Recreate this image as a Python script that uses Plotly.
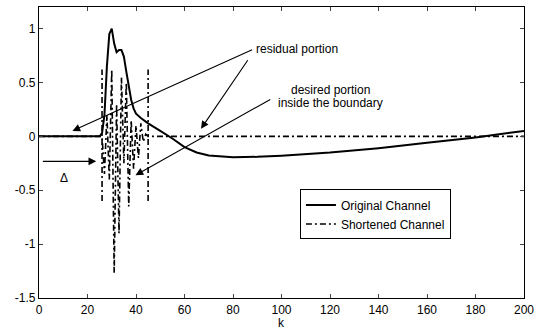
import plotly.graph_objects as go

# Original channel impulse response (sample index k, amplitude)
k_orig = [0, 25, 26, 27, 28, 29, 30, 31, 32, 33, 34, 35, 36, 37, 38, 39, 40, 42, 45,
          50, 55, 60, 65, 70, 75, 80, 90, 100, 120, 140, 160, 180, 200]
h_orig = [0, 0, 0.03, 0.2, 0.65, 0.95, 1.0, 0.86, 0.78, 0.8, 0.8, 0.74, 0.6, 0.46, 0.34,
          0.26, 0.21, 0.17, 0.12, 0.05, -0.02, -0.1, -0.15, -0.178, -0.19, -0.195, -0.19,
          -0.18, -0.15, -0.11, -0.06, -0.01, 0.05]

# Shortened channel (non-zero only inside the window)
k_short = [0, 25, 26, 27, 28, 29, 30, 31, 32, 33, 34, 35, 36, 37, 38, 39, 40, 41, 42,
           43, 44, 45, 200]
h_short = [0, 0, 0.0, -0.35, 0.2, -0.4, 0.62, -1.27, 0.3, -0.9, 0.55, -0.25, 0.5, -0.65,
           0.15, -0.3, 0.1, -0.2, 0.12, -0.05, 0.02, 0, 0]

# Window boundary
win_start, win_end = 26, 45
win_low, win_high = -0.6, 0.62

# Axis ticks
x_ticks = [0, 20, 40, 60, 80, 100, 120, 140, 160, 180, 200]
y_ticks = [-1.5, -1, -0.5, 0, 0.5, 1]
y_tick_text = ["-1.5", "-1", "-0.5", "0", "0.5", "1"]

DASHDOT = "6px,3px,2px,3px"
FONT = "Liberation Sans, Arial, sans-serif"

fig = go.Figure()
fig.add_trace(go.Scatter(
    x=k_orig, y=h_orig, mode="lines", name="Original Channel",
    line=dict(color="black", width=2),
))
fig.add_trace(go.Scatter(
    x=k_short, y=h_short, mode="lines", name="Shortened Channel",
    line=dict(color="black", width=1.6, dash=DASHDOT),
))
fig.add_trace(go.Scatter(
    x=[win_start, win_start, None, win_end, win_end],
    y=[win_low, win_high, None, win_low, win_high],
    mode="lines", showlegend=False,
    line=dict(color="black", width=1.6, dash=DASHDOT),
))

arrows = [
    # (tip x, tip y, tail x, tail y)
    (13.8, 0.05, 88.5, 0.81),
    (66.8, 0.07, 86.5, 0.72),
    (39.8, -0.36, 96.0, 0.35),
    (23.6, -0.232, 1.0, -0.232),
]
for tx, ty, sx, sy in arrows:
    fig.add_annotation(
        x=tx, y=ty, ax=sx, ay=sy, xref="x", yref="y", axref="x", ayref="y",
        showarrow=True, arrowhead=2, arrowsize=1.4, arrowwidth=1.1,
        arrowcolor="black", text="",
    )

labels = [
    (88.8, 0.81, "residual portion", "left"),
    (120, 0.43, "desired portion", "center"),
    (120, 0.31, "inside the boundary", "center"),
    (10.3, -0.39, "Δ", "center"),
]
for lx, ly, txt, anchor in labels:
    fig.add_annotation(
        x=lx, y=ly, xref="x", yref="y", text=txt, showarrow=False,
        xanchor=anchor, yanchor="middle",
        font=dict(family=FONT, size=12, color="black"),
    )

# x-axis label
fig.add_annotation(
    x=0.5, y=-0.085, xref="paper", yref="paper", text="k", showarrow=False,
    xanchor="center", yanchor="middle",
    font=dict(family=FONT, size=12, color="black"),
)

fig.update_xaxes(
    range=[0, 200], tickvals=x_ticks, ticks="inside", ticklen=4,
    showline=True, mirror="ticks", linecolor="black", linewidth=1.3,
    showgrid=False, zeroline=False,
    tickfont=dict(family=FONT, size=12, color="black"),
)
fig.update_yaxes(
    range=[-1.5, 1.2], tickvals=y_ticks, ticktext=y_tick_text, ticks="inside",
    ticklen=4, showline=True, mirror="ticks", linecolor="black", linewidth=1.3,
    showgrid=False, zeroline=False,
    tickfont=dict(family=FONT, size=12, color="black"),
)
fig.update_layout(
    width=540, height=336,
    margin=dict(l=39, r=12, t=6, b=38),
    paper_bgcolor="white", plot_bgcolor="white",
    legend=dict(
        x=0.538, y=0.373, xanchor="left", yanchor="top",
        bgcolor="white", bordercolor="black", borderwidth=1,
        font=dict(family=FONT, size=12, color="black"),
        tracegroupgap=0, itemwidth=30,
    ),
)
fig.write_html("out.html")
